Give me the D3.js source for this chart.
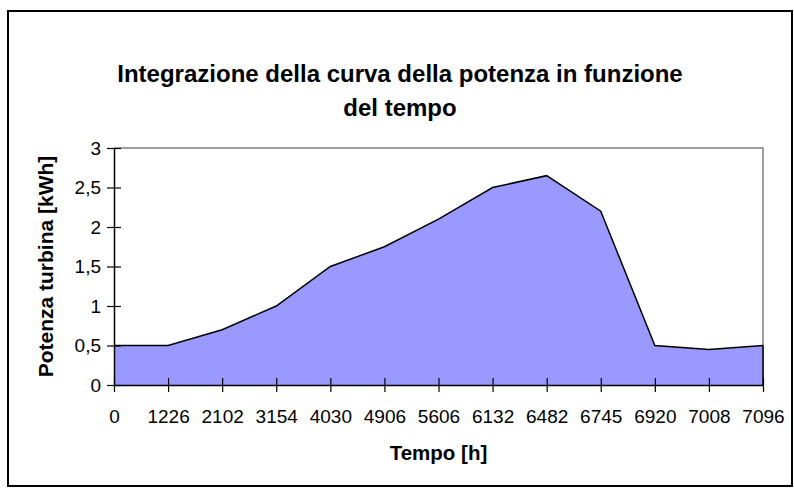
<!DOCTYPE html>
<html>
<head>
<meta charset="utf-8">
<script src="https://cdn.jsdelivr.net/npm/d3@7"></script>
<style>
  body { margin: 0; background: #fff; }
  svg { display: block; font-family: "Liberation Sans", Arial, sans-serif; }
</style>
</head>
<body>
<svg id="chart" width="794" height="488"></svg>
<script>
// data
var tempi = ["0", "1226", "2102", "3154", "4030", "4906", "5606", "6132", "6482", "6745", "6920", "7008", "7096"];
var potenza = [0.5, 0.5, 0.7, 1.0, 1.5, 1.75, 2.1, 2.5, 2.65, 2.2, 0.5, 0.45, 0.5];
var yTicks = [0, 0.5, 1, 1.5, 2, 2.5, 3];
var titleLines = ["Integrazione della curva della potenza in funzione", "del tempo"];

var svg = d3.select("#chart");
var plotLeft = 114, plotRight = 763, plotTop = 148, plotBottom = 385;

// outer frame
svg.append("rect")
    .attr("x", 8).attr("y", 11)
    .attr("width", 784).attr("height", 475)
    .attr("fill", "#fff")
    .attr("stroke", "#000")
    .attr("stroke-width", 2);

var x = d3.scalePoint()
    .domain(tempi)
    .range([plotLeft, plotRight])
    .padding(0);

var y = d3.scaleLinear()
    .domain([0, 3])
    .range([plotBottom, plotTop]);

// plot area border (gray top / right)
svg.append("path")
    .attr("d", "M" + plotLeft + "," + plotTop + "H" + plotRight + "V" + plotBottom)
    .attr("fill", "none")
    .attr("stroke", "#808080")
    .attr("stroke-width", 1.5);

var area = d3.area()
    .x(function(d, i) { return x(tempi[i]); })
    .y0(y(0))
    .y1(function(d) { return y(d); });

var line = d3.line()
    .x(function(d, i) { return x(tempi[i]); })
    .y(function(d) { return y(d); });

svg.append("path")
    .datum(potenza)
    .attr("d", area)
    .attr("fill", "#9999ff");

svg.append("path")
    .datum(potenza)
    .attr("d", line)
    .attr("fill", "none")
    .attr("stroke", "#000")
    .attr("stroke-width", 1.5);

// right edge of the area is closed by a black line
var last = tempi.length - 1;
svg.append("line")
    .attr("x1", x(tempi[last])).attr("x2", x(tempi[last]))
    .attr("y1", y(potenza[last])).attr("y2", y(0))
    .attr("stroke", "#000")
    .attr("stroke-width", 1.5);

// axes
var yAxis = d3.axisLeft(y)
    .tickValues(yTicks)
    .tickSize(7)
    .tickSizeOuter(0)
    .tickPadding(6)
    .tickFormat(function(d) { return String(d).replace(".", ","); });

var xAxis = d3.axisBottom(x)
    .tickSize(7)
    .tickSizeOuter(0)
    .tickPadding(18);

var gy = svg.append("g")
    .attr("transform", "translate(" + plotLeft + ",0)")
    .call(yAxis);

var gx = svg.append("g")
    .attr("transform", "translate(0," + plotBottom + ")")
    .call(xAxis);

// cross tick marks like the original
gy.selectAll(".tick line").attr("x1", 7).attr("x2", -7);
gx.selectAll(".tick line").attr("y1", -7).attr("y2", 7);

[gx, gy].forEach(function(g) {
    g.select(".domain").attr("stroke", "#000").attr("stroke-width", 1.5);
    g.selectAll(".tick line").attr("stroke", "#000").attr("stroke-width", 1.2);
    g.selectAll("text")
        .attr("fill", "#000")
        .style("font-family", "'Liberation Sans', Arial, sans-serif")
        .style("font-size", "19px");
});

// titles
svg.append("text")
    .selectAll("tspan")
    .data(titleLines)
    .enter()
    .append("tspan")
    .attr("x", 400)
    .attr("y", function(d, i) { return 82 + i * 34; })
    .attr("text-anchor", "middle")
    .style("font-size", "24px")
    .style("font-weight", "bold")
    .text(function(d) { return d; });

svg.append("text")
    .attr("x", (plotLeft + plotRight) / 2)
    .attr("y", 460)
    .attr("text-anchor", "middle")
    .style("font-size", "20.5px")
    .style("font-weight", "bold")
    .text("Tempo [h]");

svg.append("text")
    .attr("transform", "translate(53," + (plotTop + plotBottom) / 2 + ") rotate(-90)")
    .attr("text-anchor", "middle")
    .style("font-size", "21px")
    .style("font-weight", "bold")
    .text("Potenza turbina [kWh]");
</script>
</body>
</html>
